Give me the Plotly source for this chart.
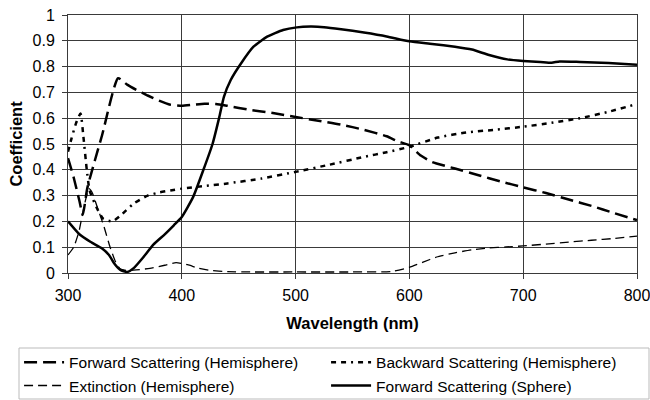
import plotly.graph_objects as go

# Forward Scattering (Hemisphere)
fh_x = [300, 305, 310, 313, 317, 330, 344, 352, 360, 370, 380, 390, 400, 410, 420, 430, 440, 460, 480, 500,
        520, 540, 560, 580, 590, 600, 610, 620, 640, 660, 680, 700, 720, 740, 760, 780, 800]
fh_y = [0.445, 0.37, 0.28, 0.225, 0.33, 0.535, 0.755, 0.73, 0.71, 0.688, 0.668, 0.652, 0.648, 0.652, 0.656,
        0.655, 0.648, 0.632, 0.62, 0.605, 0.59, 0.575, 0.555, 0.53, 0.51, 0.495, 0.455, 0.43, 0.405, 0.38,
        0.355, 0.332, 0.31, 0.285, 0.26, 0.232, 0.205]

# Backward Scattering (Hemisphere)
bh_x = [300, 303, 307, 311, 313.5, 316.5, 319, 325, 331, 339, 346, 358, 370, 380, 390, 400, 420, 440, 470,
        500, 530, 560, 580, 600, 625, 650, 675, 700, 725, 750, 775, 800]
bh_y = [0.47, 0.52, 0.58, 0.618, 0.53, 0.40, 0.32, 0.255, 0.21, 0.20, 0.222, 0.27, 0.30, 0.312, 0.32, 0.327,
        0.337, 0.347, 0.366, 0.392, 0.42, 0.45, 0.468, 0.489, 0.525, 0.545, 0.555, 0.567, 0.582, 0.60, 0.625,
        0.655]

# Extinction (Hemisphere)
ex_x = [300, 305, 309.6, 314, 318.4, 321, 325.7, 331.6, 337, 341.8, 346, 352, 360, 372, 385, 395, 405, 415,
        425, 440, 460, 500, 550, 585, 600, 612, 624, 640, 655, 670, 685, 700, 720, 740, 760, 780, 800]
ex_y = [0.07, 0.10, 0.16, 0.256, 0.327, 0.314, 0.256, 0.18, 0.10, 0.043, 0.015, 0.01, 0.012, 0.018, 0.03,
        0.04, 0.032, 0.018, 0.01, 0.005, 0.004, 0.004, 0.004, 0.006, 0.022, 0.042, 0.062, 0.078, 0.09, 0.097,
        0.101, 0.105, 0.112, 0.12, 0.127, 0.134, 0.143]

# Forward Scattering (Sphere)
fs_x = [300, 310, 320, 330, 336, 341, 346, 352, 358, 366, 375, 385, 393, 400, 410, 419, 427, 433, 437, 443,
        452, 463, 475, 489, 501, 513, 525, 540, 560, 580, 600, 620, 640, 655, 670, 686, 700, 715, 725, 732,
        750, 775, 800]
fs_y = [0.20, 0.15, 0.12, 0.095, 0.07, 0.035, 0.012, 0.004, 0.02, 0.06, 0.11, 0.15, 0.185, 0.217, 0.295,
        0.40, 0.50, 0.605, 0.683, 0.748, 0.812, 0.877, 0.916, 0.942, 0.952, 0.955, 0.953, 0.945, 0.932, 0.917,
        0.898, 0.888, 0.877, 0.866, 0.845, 0.828, 0.822, 0.818, 0.815, 0.82, 0.818, 0.814, 0.807]

names = ["Forward Scattering (Hemisphere)", "Backward Scattering (Hemisphere)",
         "Extinction (Hemisphere)", "Forward Scattering (Sphere)"]

FONT = "Liberation Sans, Arial"

fig = go.Figure()
fig.add_trace(go.Scatter(x=fh_x, y=fh_y, name=names[0], mode="lines",
                         line=dict(color="black", width=2.5, dash="13px,6px", shape="spline", smoothing=0.5)))
fig.add_trace(go.Scatter(x=bh_x, y=bh_y, name=names[1], mode="lines",
                         line=dict(color="black", width=2.5, dash="5px,5px,5px,5px,2px,5px", shape="spline",
                                   smoothing=0.5)))
fig.add_trace(go.Scatter(x=ex_x, y=ex_y, name=names[2], mode="lines",
                         line=dict(color="black", width=1.3, dash="9px,5px", shape="spline", smoothing=0.5)))
fig.add_trace(go.Scatter(x=fs_x, y=fs_y, name=names[3], mode="lines",
                         line=dict(color="black", width=2.5, shape="spline", smoothing=0.5)))

axis_common = dict(showgrid=True, gridcolor="#3a3a3a", gridwidth=1, showline=True, linecolor="#3a3a3a",
                   linewidth=1, mirror=True, ticks="outside", ticklen=5, tickcolor="#3a3a3a",
                   tickfont=dict(family=FONT, size=16, color="black"), zeroline=False,
                   ticklabeloverflow="allow")

fig.update_xaxes(range=[300, 800], dtick=100, tick0=300, ticklabelstandoff=3,
                 title=dict(text="<b>Wavelength (nm)</b>", font=dict(family=FONT, size=16.5, color="black"),
                            standoff=14),
                 **axis_common)
fig.update_yaxes(range=[0, 1], dtick=0.1, tick0=0, ticklabelstandoff=4,
                 title=dict(text="<b>Coefficient</b>", font=dict(family=FONT, size=16.5, color="black"),
                            standoff=5),
                 **axis_common)

# legend frame (pixel box 19..649 x 348..399 converted to paper coords)
PL, PW, PT, PH = 68, 569, 15, 258
fig.add_shape(type="rect", xref="paper", yref="paper",
              x0=(19 - PL) / PW, x1=(649 - PL) / PW,
              y0=(PT + PH - 399) / PH, y1=(PT + PH - 348) / PH,
              line=dict(color="#bbbbbb", width=1), fillcolor="rgba(0,0,0,0)", layer="above")

fig.update_layout(
    width=650, height=400,
    margin=dict(l=68, r=13, t=15, b=127, autoexpand=False),
    paper_bgcolor="white", plot_bgcolor="white",
    font=dict(family=FONT, color="black"),
    legend=dict(orientation="h", x=-0.086, xanchor="left", y=-0.282, yanchor="top",
                borderwidth=0, entrywidth=252, entrywidthmode="pixels",
                font=dict(family=FONT, size=15.5, color="black"),
                tracegroupgap=0, itemwidth=40, bgcolor="rgba(0,0,0,0)"),
)

fig.write_html("out.html", config={"displayModeBar": False},
               post_script="document.body.style.margin='0';document.body.style.overflow='hidden';")
